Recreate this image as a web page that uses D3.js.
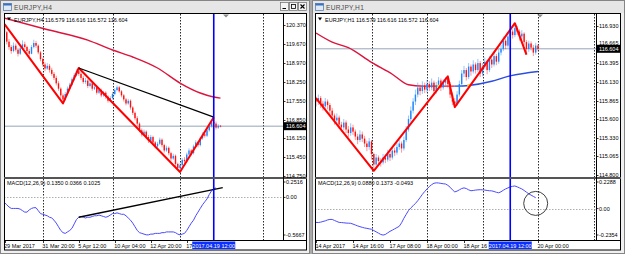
<!DOCTYPE html>
<html><head><meta charset="utf-8">
<script src="https://cdn.jsdelivr.net/npm/d3@7"></script>
<style>html,body{margin:0;padding:0;background:#a9a9a9;overflow:hidden}</style>
</head><body><script>
// ---------------- DATA : EURJPY H4 (left window) ----------------
const h4Open = [120.40,120.10,119.75,119.55,119.40,119.60,119.45,119.30,119.50,119.65,
119.55,119.40,119.30,119.55,119.70,119.60,119.35,119.10,118.90,118.75,
118.85,118.70,118.55,118.40,118.20,118.00,117.75,117.60,117.80,118.00,
118.15,118.35,118.50,118.65,118.55,118.40,118.25,118.30,118.10,118.20,
118.00,118.05,117.85,117.95,117.75,117.85,117.70,117.55,117.65,117.80,
117.95,118.05,117.90,117.75,117.60,117.45,117.55,117.30,117.10,116.90,
116.70,116.45,116.30,116.40,116.20,116.05,116.20,116.00,115.85,115.95,
116.10,115.90,115.70,115.80,115.60,115.40,115.50,115.20,115.05,115.15,
115.35,115.30,115.55,115.70,115.60,115.85,116.00,115.90,116.15,116.30,
116.25,116.45,116.60,116.75,116.70,116.55,116.62];
const h4Close = [120.10,119.75,119.55,119.40,119.60,119.45,119.30,119.50,119.65,119.55,
119.40,119.30,119.55,119.70,119.60,119.35,119.10,118.90,118.75,118.85,
118.70,118.55,118.40,118.20,118.00,117.75,117.60,117.80,118.00,118.15,
118.35,118.50,118.65,118.55,118.40,118.25,118.30,118.10,118.20,118.00,
118.05,117.85,117.95,117.75,117.85,117.70,117.55,117.65,117.80,117.95,
118.05,117.90,117.75,117.60,117.45,117.55,117.30,117.10,116.90,116.70,
116.45,116.30,116.40,116.20,116.05,116.20,116.00,115.85,115.95,116.10,
115.90,115.70,115.80,115.60,115.40,115.50,115.20,115.05,115.15,115.35,
115.30,115.55,115.70,115.60,115.85,116.00,115.90,116.15,116.30,116.25,
116.45,116.60,116.75,116.70,116.55,116.62,116.60];
const h4High = [120.45,120.15,119.85,119.62,119.72,119.68,119.52,119.58,119.80,119.75,
119.60,119.48,119.62,119.82,119.78,119.65,119.40,119.15,118.98,118.95,
118.92,118.78,118.62,118.48,118.28,118.05,117.82,117.88,118.08,118.22,
118.42,118.58,118.72,118.77,118.62,118.48,118.40,118.35,118.28,118.25,
118.15,118.10,118.02,118.00,117.92,117.90,117.75,117.72,117.88,118.02,
118.12,118.10,117.95,117.80,117.65,117.62,117.60,117.35,117.15,116.98,
116.75,116.52,116.48,116.45,116.28,116.28,116.25,116.05,116.02,116.18,
116.15,115.95,115.88,115.85,115.65,115.58,115.55,115.25,115.22,115.42,
115.45,115.62,115.78,115.75,115.92,116.08,116.05,116.22,116.38,116.35,
116.52,116.68,116.82,116.94,116.78,116.68,116.65];
const h4Low = [120.00,119.65,119.45,119.30,119.35,119.38,119.20,119.25,119.45,119.48,
119.32,119.22,119.28,119.50,119.52,119.28,119.02,118.82,118.65,118.70,
118.60,118.48,118.32,118.12,117.92,117.65,117.45,117.55,117.75,117.95,
118.10,118.30,118.45,118.48,118.32,118.18,118.18,118.02,118.05,117.92,
117.95,117.78,117.80,117.68,117.70,117.62,117.48,117.50,117.60,117.75,
117.90,117.85,117.68,117.52,117.38,117.40,117.22,117.02,116.82,116.62,
116.38,116.22,116.25,116.12,115.98,116.00,115.92,115.78,115.80,115.90,
115.82,115.62,115.65,115.52,115.32,115.35,115.12,114.98,114.90,115.10,
115.22,115.25,115.50,115.52,115.55,115.80,115.82,115.85,116.10,116.18,
116.20,116.40,116.55,116.62,116.48,116.50,116.56];
const h4Macd = [-0.07,-0.10,-0.13,-0.15,-0.15,-0.15,-0.15,-0.16,-0.18,-0.20,
-0.20,-0.17,-0.15,-0.14,-0.14,-0.18,-0.22,-0.23,-0.24,-0.25,
-0.27,-0.28,-0.31,-0.35,-0.40,-0.45,-0.48,-0.49,-0.47,-0.45,
-0.42,-0.36,-0.30,-0.27,-0.26,-0.27,-0.28,-0.27,-0.27,-0.26,
-0.25,-0.25,-0.24,-0.25,-0.26,-0.27,-0.26,-0.24,-0.22,-0.22,
-0.21,-0.22,-0.23,-0.23,-0.25,-0.28,-0.31,-0.35,-0.40,-0.45,
-0.48,-0.49,-0.50,-0.51,-0.51,-0.50,-0.50,-0.49,-0.49,-0.49,
-0.48,-0.48,-0.47,-0.47,-0.47,-0.47,-0.48,-0.50,-0.51,-0.50,
-0.49,-0.45,-0.40,-0.35,-0.31,-0.25,-0.20,-0.15,-0.10,-0.06,
-0.02,0.04,0.09,0.12,0.13];
const h4MaBars = [0,18,37,48,57,68,78,87,93,96];
const h4MaVals = [120.63,120.22,119.81,119.44,119.18,118.77,118.21,117.84,117.69,117.65];
const h4ZigBars = [0,26,33,78,93];
const h4ZigVals = [120.40,117.45,118.77,114.90,116.94];
const h4TrendBars = [33,93];
const h4TrendVals = [118.77,116.94];
const h4MacdTrendBars = [33,97];
const h4MacdTrendVals = [-0.27,0.135];
const h4PriceTicks = [120.370,119.670,118.970,118.250,117.550,116.850,116.150,115.450,114.750];
const h4TimeBars = [0,17,33,49,65,81];
const h4TimeLabels = ['29 Mar 2017','31 Mar 20:00','5 Apr 12:00','10 Apr 04:00','12 Apr 20:00','17'];
const h4GridBars = [17,48,78,115];

// ---------------- DATA : EURJPY H1 (right window) ----------------
const h1Open = [115.88,115.85,115.90,115.82,115.78,115.85,115.80,115.72,115.65,115.58,
115.62,115.52,115.48,115.55,115.45,115.40,115.48,115.42,115.35,115.30,
115.38,115.32,115.25,115.20,115.28,115.10,114.95,115.05,115.00,114.98,
115.05,115.02,115.10,115.05,115.15,115.12,115.20,115.25,115.18,115.30,
115.45,115.60,115.72,115.85,115.95,116.05,116.00,116.08,116.02,116.10,
116.05,116.12,116.00,116.08,116.15,116.05,116.12,116.18,116.10,115.95,
115.85,115.82,115.95,116.10,116.25,116.30,116.20,116.35,116.28,116.38,
116.30,116.40,116.25,116.35,116.42,116.30,116.45,116.38,116.50,116.42,
116.55,116.60,116.72,116.65,116.78,116.85,116.80,116.90,116.85,116.78,
116.82,116.70,116.60,116.68,116.62,116.55,116.65];
const h1Close = [115.85,115.90,115.82,115.78,115.85,115.80,115.72,115.65,115.58,115.62,
115.52,115.48,115.55,115.45,115.40,115.48,115.42,115.35,115.30,115.38,
115.32,115.25,115.20,115.28,115.10,114.95,115.05,115.00,114.98,115.05,
115.02,115.10,115.05,115.15,115.12,115.20,115.25,115.18,115.30,115.45,
115.60,115.72,115.85,115.95,116.05,116.00,116.08,116.02,116.10,116.05,
116.12,116.00,116.08,116.15,116.05,116.12,116.18,116.10,115.95,115.85,
115.82,115.95,116.10,116.25,116.30,116.20,116.35,116.28,116.38,116.30,
116.40,116.25,116.35,116.42,116.30,116.45,116.38,116.50,116.42,116.55,
116.60,116.72,116.65,116.78,116.85,116.80,116.90,116.85,116.78,116.82,
116.70,116.60,116.68,116.62,116.55,116.65,116.60];
const h1High = [115.92,115.95,115.93,115.86,115.90,115.88,115.83,115.76,115.68,115.68,
115.65,115.56,115.60,115.58,115.50,115.54,115.52,115.45,115.39,115.44,
115.42,115.36,115.29,115.33,115.30,115.12,115.10,115.08,115.04,115.10,
115.09,115.16,115.14,115.20,115.19,115.26,115.30,115.28,115.35,115.50,
115.65,115.78,115.90,116.02,116.12,116.09,116.14,116.12,116.16,116.14,
116.18,116.15,116.13,116.20,116.18,116.17,116.20,116.21,116.13,115.98,
115.90,116.00,116.15,116.30,116.36,116.33,116.40,116.38,116.44,116.41,
116.46,116.43,116.40,116.48,116.45,116.50,116.48,116.55,116.53,116.60,
116.66,116.78,116.75,116.83,116.90,116.88,116.97,116.93,116.88,116.87,
116.84,116.73,116.72,116.71,116.66,116.69,116.67];
const h1Low = [115.78,115.80,115.76,115.72,115.74,115.74,115.66,115.60,115.52,115.54,
115.46,115.42,115.44,115.40,115.34,115.36,115.37,115.30,115.24,115.27,
115.27,115.20,115.14,115.16,115.02,114.86,114.92,114.94,114.92,114.95,
114.97,114.99,115.00,115.02,115.07,115.09,115.16,115.12,115.15,115.27,
115.42,115.56,115.68,115.80,115.91,115.94,115.96,115.97,115.98,116.00,
116.01,115.94,115.96,116.04,116.00,116.02,116.08,116.05,115.90,115.80,
115.77,115.79,115.92,116.06,116.20,116.15,116.17,116.22,116.25,116.25,
116.27,116.20,116.21,116.31,116.24,116.27,116.33,116.35,116.37,116.39,
116.51,116.57,116.60,116.62,116.74,116.75,116.77,116.80,116.72,116.74,
116.65,116.52,116.56,116.58,116.50,116.52,116.57];
const h1Macd = [-0.107,-0.108,-0.105,-0.100,-0.095,-0.088,-0.084,-0.084,-0.092,-0.100,
-0.107,-0.108,-0.110,-0.112,-0.113,-0.114,-0.120,-0.127,-0.134,-0.140,
-0.145,-0.150,-0.153,-0.157,-0.160,-0.170,-0.180,-0.190,-0.200,-0.205,
-0.200,-0.188,-0.176,-0.167,-0.157,-0.147,-0.137,-0.110,-0.075,-0.045,
-0.015,0.005,0.022,0.040,0.061,0.085,0.110,0.132,0.152,0.170,
0.185,0.196,0.199,0.198,0.195,0.192,0.190,0.180,0.165,0.145,
0.129,0.135,0.145,0.155,0.160,0.155,0.145,0.138,0.140,0.143,
0.145,0.146,0.145,0.143,0.140,0.138,0.137,0.132,0.126,0.122,
0.130,0.142,0.152,0.160,0.168,0.172,0.175,0.168,0.160,0.152,
0.140,0.127,0.114,0.104,0.094,0.084];
const h1MaBars = [0,7,14,24,33,40,46,53,60,66,76,83,96];
const h1MaVals = [116.83,116.70,116.62,116.41,116.24,116.09,116.07,116.07,116.07,116.08,116.14,116.21,116.28];
const h1MaSplitBar = 60;
const h1MaDotBars = [53,66];
const h1ZigBars = [0,25,57,60,86,91];
const h1ZigVals = [115.90,114.86,116.21,115.77,116.97,116.52];
const h1PriceTicks = [116.930,116.665,116.395,116.130,115.865,115.600,115.330,115.065,114.800];
const h1TimeBars = [0,16,32,48,64,96];
const h1TimeLabels = ['14 Apr 2017','14 Apr 16:00','17 Apr 08:00','18 Apr 00:00','18 Apr 16','20 Apr 00:00'];
const h1GridBars = [24,48,72,96,120];
const h1CircleBar = 95, h1CircleVal = 0.04;

// ---------------- LAYOUT ----------------
const FONT = 'Liberation Sans, Arial, sans-serif';
const Y = {frameTop:14, mainBottom:177, macdTop:179, macdBottom:239, axisLine:240, frameBottom:250};
const svg = d3.select('body').append('svg').attr('width',625).attr('height',254).style('display','block');
svg.append('rect').attr('width',625).attr('height',254).attr('fill','#a9a9a9');

function drawWindow(c){
  const g = svg.append('g');
  const id = c.id;
  g.append('rect').attr('x',c.winX0+0.5).attr('y',0.5).attr('width',c.winX1-c.winX0-1).attr('height',253)
    .attr('fill','#f0f0f0').attr('stroke','#858585');
  g.append('rect').attr('x',c.winX0+1).attr('y',1).attr('width',c.winX1-c.winX0-2).attr('height',12).attr('fill','#e6e6e6');
  g.append('rect').attr('x',c.winX0+3.5).attr('y',3.5).attr('width',8).attr('height',7).attr('fill','#dfe8f5').attr('stroke','#5a7fb0').attr('stroke-width',0.8);
  g.append('rect').attr('x',c.winX0+3.5).attr('y',3.5).attr('width',8).attr('height',2).attr('fill','#3b6fc0');
  g.append('text').attr('x',c.winX0+14).attr('y',10).attr('font-family',FONT).attr('font-size',6.6)
    .attr('fill','#4a4a4a').attr('letter-spacing',0.3).text(c.title);
  if (c.buttons){
    [0,1,2].forEach(k=>{
      const bx = c.winX1-30+k*9;
      g.append('rect').attr('x',bx+0.5).attr('y',2.5).attr('width',8).attr('height',8).attr('fill','#f4f4f4').attr('stroke','#6b6b6b').attr('stroke-width',0.7);
      if(k===0) g.append('line').attr('x1',bx+2.5).attr('x2',bx+6).attr('y1',8.5).attr('y2',8.5).attr('stroke','#000');
      if(k===1) g.append('rect').attr('x',bx+2.5).attr('y',4.5).attr('width',4).attr('height',4).attr('fill','none').attr('stroke','#000').attr('stroke-width',0.8);
      if(k===2){ g.append('path').attr('d',`M${bx+2.5},4.5L${bx+6.5},8.5M${bx+6.5},4.5L${bx+2.5},8.5`).attr('stroke','#000').attr('stroke-width',1.1);}
    });
  }
  g.append('rect').attr('x',c.frameX0+0.5).attr('y',Y.frameTop-0.5).attr('width',c.frameX1-c.frameX0-1).attr('height',Y.frameBottom-Y.frameTop+0.5)
    .attr('fill','#fff').attr('stroke','#000');

  const x = d3.scaleLinear().domain([0,96]).range(c.barRange);
  const yP = d3.scaleLinear().domain(c.priceDomain).range(c.priceRange);
  const yM = d3.scaleLinear().domain(c.macdDomain).range([Y.macdBottom, Y.macdTop]);

  const defs = g.append('defs');
  defs.append('clipPath').attr('id','cm'+id).append('rect').attr('x',c.frameX0+1).attr('y',Y.frameTop).attr('width',c.plotX1-c.frameX0-1).attr('height',Y.mainBottom-Y.frameTop);
  defs.append('clipPath').attr('id','cd'+id).append('rect').attr('x',c.frameX0+1).attr('y',Y.macdTop).attr('width',c.plotX1-c.frameX0-1).attr('height',Y.macdBottom-Y.macdTop+1);

  const main = g.append('g').attr('clip-path',`url(#cm${id})`);
  const macd = g.append('g').attr('clip-path',`url(#cd${id})`);

  c.grid.forEach(b=>{
    [[main,Y.frameTop,Y.mainBottom],[macd,Y.macdTop,Y.macdBottom+1]].forEach(([p,a,bb])=>{
      p.append('line').attr('x1',Math.round(x(b))+0.5).attr('x2',Math.round(x(b))+0.5).attr('y1',a).attr('y2',bb)
        .attr('stroke','#111').attr('stroke-width',0.9).attr('stroke-dasharray','1.5,1.5');
    });
  });
  main.append('line').attr('x1',c.frameX0).attr('x2',c.plotX1).attr('y1',yP(c.last)).attr('y2',yP(c.last))
    .attr('stroke','#8a9bb0').attr('stroke-width',0.9);

  const maLine = d3.line().x(d=>x(d[0])).y(d=>yP(d[1])).curve(d3.curveMonotoneX);
  const maPts = c.maBars.map((b,i)=>[b,c.maVals[i]]);
  if (c.maSplit!=null){
    main.append('path').attr('d',maLine(maPts.filter(p=>p[0]<=c.maSplit))).attr('fill','none').attr('stroke','#dc143c').attr('stroke-width',1.4);
    main.append('path').attr('d',maLine(maPts.filter(p=>p[0]>=c.maSplit))).attr('fill','none').attr('stroke','#2a4de0').attr('stroke-width',1.4);
  } else {
    main.append('path').attr('d',maLine(maPts)).attr('fill','none').attr('stroke','#dc143c').attr('stroke-width',1.4);
  }

  const bars = c.close.map((cl,i)=>({i,o:c.open[i],c:cl,h:c.high[i],l:c.low[i]}));
  const cg = main.append('g');
  cg.selectAll('line.w').data(bars).join('line')
    .attr('x1',d=>x(d.i)).attr('x2',d=>x(d.i)).attr('y1',d=>yP(d.h)).attr('y2',d=>yP(d.l))
    .attr('stroke',d=>d.c>=d.o?'#2f8fff':'#ff2a2a').attr('stroke-width',0.9).attr('opacity',0.55);
  cg.selectAll('rect.b').data(bars).join('rect')
    .attr('x',d=>x(d.i)-0.7).attr('width',1.4)
    .attr('y',d=>Math.min(yP(d.o),yP(d.c))).attr('height',d=>Math.max(0.8,Math.abs(yP(d.o)-yP(d.c))))
    .attr('fill',d=>d.c>=d.o?'#1e86ff':'#ff1010');

  if (c.dots) c.dots.forEach(b=>{
    const k = c.maBars.indexOf(b);
    main.append('circle').attr('cx',x(b)).attr('cy',yP(c.maVals[k])).attr('r',1.4).attr('fill','#ffe000');
  });

  const zz = d3.line().x(d=>x(d[0])).y(d=>yP(d[1]));
  main.append('path').attr('d',zz(c.zigBars.map((b,i)=>[b,c.zigVals[i]]))).attr('fill','none')
    .attr('stroke','#ff0000').attr('stroke-width',2).attr('stroke-linejoin','round');

  if (c.trendBars) main.append('path').attr('d',zz(c.trendBars.map((b,i)=>[b,c.trendVals[i]])))
    .attr('fill','none').attr('stroke','#000').attr('stroke-width',1.3);

  macd.append('line').attr('x1',c.frameX0).attr('x2',c.plotX1).attr('y1',Math.round(yM(0))+0.5).attr('y2',Math.round(yM(0))+0.5)
    .attr('stroke','#999').attr('stroke-width',0.8).attr('stroke-dasharray','1.5,1.5');
  const ml = d3.line().x((d,i)=>x(i)).y(d=>yM(d));
  macd.append('path').attr('d',ml(c.macd)).attr('fill','none').attr('stroke','#4b4bff').attr('stroke-width',1);
  if (c.macdTrendBars){
    const tl = d3.line().x(d=>x(d[0])).y(d=>yM(d[1]));
    g.append('path').attr('d',tl(c.macdTrendBars.map((b,i)=>[b,c.macdTrendVals[i]]))).attr('fill','none')
      .attr('stroke','#000').attr('stroke-width',1.3);
  }
  if (c.circle){
    g.append('circle').attr('cx',x(c.circle[0])).attr('cy',yM(c.circle[1])).attr('r',12).attr('fill','none').attr('stroke','#111').attr('stroke-width',0.8);
  }

  g.append('line').attr('x1',x(c.vBar)).attr('x2',x(c.vBar)).attr('y1',Y.frameTop).attr('y2',Y.axisLine)
    .attr('stroke','#0000ff').attr('stroke-width',1.6);

  g.append('path').attr('d',`M${c.shiftX-3},${Y.frameTop+0.5}L${c.shiftX+3},${Y.frameTop+0.5}L${c.shiftX},${Y.frameTop+3.5}Z`).attr('fill','#8a8a8a');

  g.append('rect').attr('x',c.frameX0).attr('y',Y.mainBottom).attr('width',c.frameX1-c.frameX0).attr('height',2).attr('fill','#555');
  g.append('line').attr('x1',c.frameX0).attr('x2',c.frameX1).attr('y1',Y.axisLine+0.5).attr('y2',Y.axisLine+0.5).attr('stroke','#000');
  g.append('line').attr('x1',c.plotX1+0.5).attr('x2',c.plotX1+0.5).attr('y1',Y.frameTop).attr('y2',Y.axisLine).attr('stroke','#000');

  const txt = (px,py,s,col)=>g.append('text').attr('x',px).attr('y',py).attr('font-family',FONT).attr('font-size',5.5).attr('fill',col||'#000').text(s);

  g.append('path').attr('d',`M${c.frameX0+3},${17.5}L${c.frameX0+7},${17.5}L${c.frameX0+5},${20.5}Z`).attr('fill','#000');
  txt(c.frameX0+10, 21.5, c.legend);
  txt(c.frameX0+3, 185, c.macdLegend);

  const lastY = yP(c.last);
  c.priceTicks.forEach(v=>{
    g.append('line').attr('x1',c.plotX1).attr('x2',c.plotX1+2.5).attr('y1',Math.round(yP(v))+0.5).attr('y2',Math.round(yP(v))+0.5).attr('stroke','#000').attr('stroke-width',0.8);
    let ty = yP(v)+2;
    if (Math.abs(yP(v)-lastY) < 8) ty = lastY - 4.3; // label sits just above the current-price box, as in the reference
    txt(c.plotX1+3, ty, v.toFixed(3));
  });
  g.append('rect').attr('x',c.plotX1+1).attr('y',lastY-4).attr('width',23).attr('height',8).attr('fill','#000');
  txt(c.plotX1+3, lastY+2, c.last.toFixed(3), '#fff');

  txt(c.plotX1+3, Y.macdTop+5, c.macdDomain[1].toFixed(4));
  txt(c.plotX1+3, yM(0)+2, '0.00');
  txt(c.plotX1+3, Y.macdBottom-2, c.macdDomain[0].toFixed(4));
  [Y.macdTop+3, yM(0), Y.macdBottom-4].forEach(yy=>g.append('line').attr('x1',c.plotX1).attr('x2',c.plotX1+2.5).attr('y1',yy).attr('y2',yy).attr('stroke','#000').attr('stroke-width',0.8));

  c.timeBars.forEach((b,i)=>{
    g.append('line').attr('x1',Math.round(x(b))+0.5).attr('x2',Math.round(x(b))+0.5).attr('y1',Y.axisLine).attr('y2',Y.axisLine+3).attr('stroke','#000').attr('stroke-width',0.8);
    txt(x(b)-0.5, 248, c.timeLabels[i]);
  });
  const hx = x(c.vBar);
  g.append('rect').attr('x',hx-21.5).attr('y',241.5).attr('width',43).attr('height',7.5).attr('fill','#0a2fff');
  g.append('text').attr('x',hx).attr('y',247.7).attr('text-anchor','middle').attr('font-family',FONT).attr('font-size',5.5).attr('fill','#fff').text(c.vLabel);
}

drawWindow({
  id:'L', title:'EURJPY,H4', buttons:true, winX0:0, winX1:310, frameX0:4, frameX1:307, plotX1:283,
  barRange:[4.5,220.5], priceDomain:[114.75,120.37], priceRange:[176,25], macdDomain:[-0.5667,0.2516],
  open:h4Open, close:h4Close, high:h4High, low:h4Low, macd:h4Macd,
  maBars:h4MaBars, maVals:h4MaVals, zigBars:h4ZigBars, zigVals:h4ZigVals,
  trendBars:h4TrendBars, trendVals:h4TrendVals, macdTrendBars:h4MacdTrendBars, macdTrendVals:h4MacdTrendVals,
  priceTicks:h4PriceTicks, timeBars:h4TimeBars, timeLabels:h4TimeLabels, grid:h4GridBars,
  last:116.604, vBar:93, vLabel:'2017.04.19 12:00', shiftX:226,
  legend:'EURJPY,H4  116.579 116.616 116.572 116.604', macdLegend:'MACD(12,26,9) 0.1350 0.0366 0.1025'
});
drawWindow({
  id:'R', title:'EURJPY,H1', buttons:false, winX0:312, winX1:625, frameX0:315, frameX1:621, plotX1:596,
  barRange:[316,538], priceDomain:[114.80,116.93], priceRange:[175,26], macdDomain:[-0.2354,0.2288],
  open:h1Open, close:h1Close, high:h1High, low:h1Low, macd:h1Macd,
  maBars:h1MaBars, maVals:h1MaVals, maSplit:h1MaSplitBar, dots:h1MaDotBars, zigBars:h1ZigBars, zigVals:h1ZigVals,
  priceTicks:h1PriceTicks, timeBars:h1TimeBars, timeLabels:h1TimeLabels, grid:h1GridBars,
  circle:[h1CircleBar,h1CircleVal],
  last:116.604, vBar:84, vLabel:'2017.04.19 12:00', shiftX:540,
  legend:'EURJPY,H1  116.579 116.616 116.572 116.604', macdLegend:'MACD(12,26,9) 0.0880 0.1373 -0.0493'
});
</script></body></html>
